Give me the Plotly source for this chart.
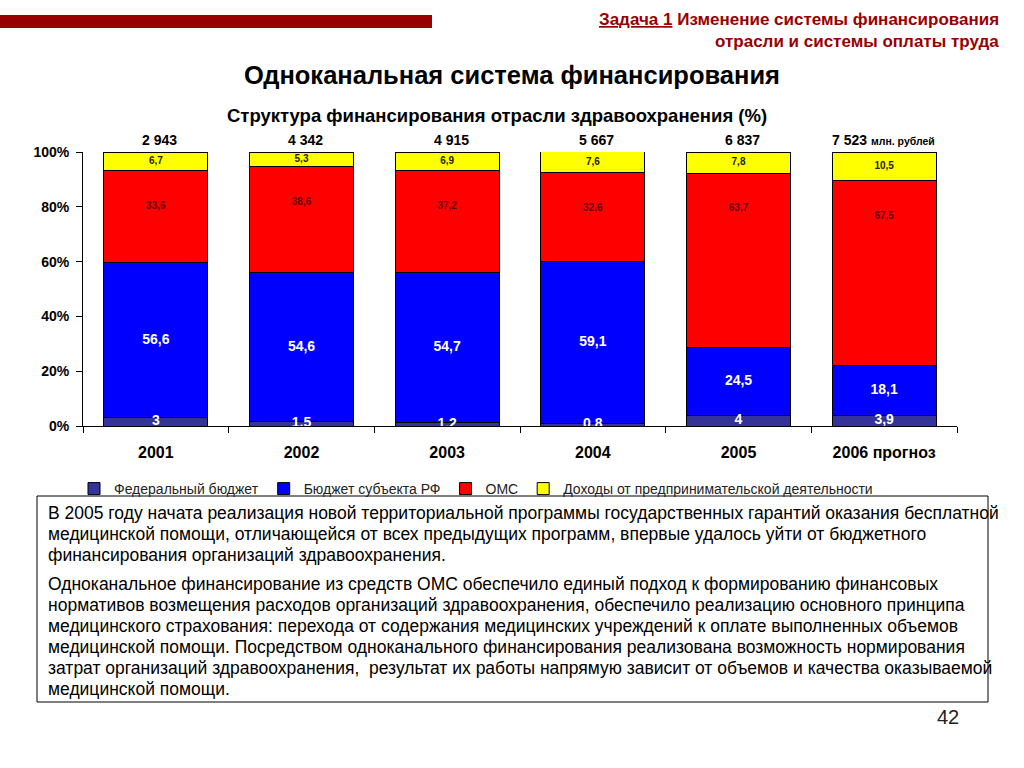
import plotly.graph_objects as go

years = ["2001", "2002", "2003", "2004", "2005", "2006 прогноз"]
totals = ["2 943", "4 342", "4 915", "5 667", "6 837", "7 523"]
federal = [3, 1.5, 1.2, 0.8, 4, 3.9]
subject = [56.6, 54.6, 54.7, 59.1, 24.5, 18.1]
oms = [33.6, 38.6, 37.2, 32.6, 63.7, 67.5]
business = [6.7, 5.3, 6.9, 7.6, 7.8, 10.5]
series_names = ["Федеральный бюджет", "Бюджет субъекта РФ", "ОМС",
                "Доходы от предпринимательской деятельности"]
colors = ["#333399", "#0000FF", "#FF0000", "#FFFF00"]
yticks = [0, 20, 40, 60, 80, 100]
ytick_labels = ["0%", "20%", "40%", "60%", "80%", "100%"]

para1 = [
    "В 2005 году начата реализация новой территориальной программы государственных гарантий оказания бесплатной",
    "медицинской помощи, отличающейся от всех предыдущих программ, впервые удалось уйти от бюджетного",
    "финансирования организаций здравоохранения.",
]
para2 = [
    "Одноканальное финансирование из средств ОМС обеспечило единый подход к формированию финансовых",
    "нормативов возмещения расходов организаций здравоохранения, обеспечило реализацию основного принципа",
    "медицинского страхования: перехода от содержания медицинских учреждений к оплате выполненных объемов",
    "медицинской помощи. Посредством одноканального финансирования реализована возможность нормирования",
    "затрат организаций здравоохранения,  результат их работы напрямую зависит от объемов и качества оказываемой",
    "медицинской помощи.",
]

FONT = "Liberation Sans, Arial, sans-serif"
W, H = 1024, 768
PL, PR, PT, PB = 83, 957, 152, 426  # plot area in pixels


def px(x):
    return (x - PL) / (PR - PL)


def py(y):
    return (PB - y) / (PB - PT)


fig = go.Figure()
for name, vals, col in zip(series_names, [federal, subject, oms, business], colors):
    fig.add_trace(go.Bar(
        x=years, y=vals, name=name,
        marker=dict(color=col, line=dict(color="black", width=1)),
        hoverinfo="skip",
    ))

# segment labels
fed_y = [v / 2 for v in federal]
sub_y = [f + s / 2 for f, s in zip(federal, subject)]
oms_top = [f + s + o for f, s, o in zip(federal, subject, oms)]
oms_y = [t - 13 for t in oms_top]
bus_y = [t + b / 2 for t, b in zip(oms_top, business)]


def fmt(v):
    return ("%g" % v).replace(".", ",")


fig.add_trace(go.Scatter(
    x=years, y=fed_y, mode="text", text=[fmt(v) for v in federal],
    textfont=dict(family=FONT, size=14, color="white", weight="bold"),
    cliponaxis=True, showlegend=False, hoverinfo="skip"))
fig.add_trace(go.Scatter(
    x=years, y=sub_y, mode="text", text=[fmt(v) for v in subject],
    textfont=dict(family=FONT, size=14, color="white", weight="bold"),
    cliponaxis=False, showlegend=False, hoverinfo="skip"))
fig.add_trace(go.Scatter(
    x=years, y=oms_y, mode="text", text=[fmt(v) for v in oms],
    textfont=dict(family=FONT, size=10, color="#660000", weight="bold"),
    cliponaxis=False, showlegend=False, hoverinfo="skip"))
fig.add_trace(go.Scatter(
    x=years, y=bus_y, mode="text", text=[fmt(v) for v in business],
    textfont=dict(family=FONT, size=10, color="#222200", weight="bold"),
    cliponaxis=False, showlegend=False, hoverinfo="skip"))

annotations = []
for i, t in enumerate(totals):
    last = i == len(totals) - 1
    annotations.append(dict(x=i, y=100, xref="x", yref="y", text=t, showarrow=False,
                            yanchor="bottom", yshift=2, xshift=-35 if last else 4,
                            font=dict(family=FONT, size=14, color="black", weight="bold")))
annotations.append(dict(x=px(869), y=py(141), xref="paper", yref="paper", text="млн. рублей",
                        showarrow=False, xanchor="left", yanchor="middle",
                        font=dict(family=FONT, size=10.5, color="black", weight="bold")))

# header
annotations.append(dict(x=px(1001), y=py(20), xref="paper", yref="paper",
                        text="<u>Задача 1</u> Изменение системы финансирования",
                        showarrow=False, xanchor="right", yanchor="middle",
                        font=dict(family=FONT, size=17, color="#990000", weight="bold")))
annotations.append(dict(x=px(1001), y=py(42), xref="paper", yref="paper",
                        text="отрасли и системы оплаты труда",
                        showarrow=False, xanchor="right", yanchor="middle",
                        font=dict(family=FONT, size=17, color="#990000", weight="bold")))
annotations.append(dict(x=px(512), y=py(75), xref="paper", yref="paper",
                        text="Одноканальная система финансирования",
                        showarrow=False, xanchor="center", yanchor="middle",
                        font=dict(family=FONT, size=25.5, color="black", weight="bold")))
annotations.append(dict(x=px(497), y=py(116), xref="paper", yref="paper",
                        text="Структура финансирования отрасли здравоохранения (%)",
                        showarrow=False, xanchor="center", yanchor="middle",
                        font=dict(family=FONT, size=18.5, color="black", weight="bold")))

# body text
line_y = [513, 534, 555]
for ln, yy in zip(para1, line_y):
    annotations.append(dict(x=px(46), y=py(yy), xref="paper", yref="paper", text=ln,
                            showarrow=False, xanchor="left", yanchor="middle",
                            font=dict(family=FONT, size=17.5, color="black")))
line_y2 = [584, 605, 626, 647, 668, 689]
for ln, yy in zip(para2, line_y2):
    annotations.append(dict(x=px(46), y=py(yy), xref="paper", yref="paper", text=ln,
                            showarrow=False, xanchor="left", yanchor="middle",
                            font=dict(family=FONT, size=17.5, color="black")))
annotations.append(dict(x=px(948), y=py(717), xref="paper", yref="paper", text="42",
                        showarrow=False, xanchor="center", yanchor="middle",
                        font=dict(family=FONT, size=20, color="#222222")))

shapes = [
    dict(type="rect", xref="paper", yref="paper", x0=px(0), x1=px(432), y0=py(28), y1=py(15),
         fillcolor="#990000", line=dict(width=0), layer="above"),
    dict(type="rect", xref="paper", yref="paper", x0=px(37), x1=px(988), y0=py(702), y1=py(496),
         fillcolor="rgba(0,0,0,0)", line=dict(color="black", width=1)),
]

fig.update_layout(
    width=W, height=H,
    margin=dict(l=PL, r=W - PR, t=PT, b=H - PB, pad=0),
    paper_bgcolor="white", plot_bgcolor="white",
    barmode="stack", bargap=0.285,
    font=dict(family=FONT, color="black"),
    showlegend=True,
    legend=dict(orientation="h", x=px(74), y=py(489), xanchor="left", yanchor="middle",
                font=dict(family=FONT, size=14, color="#222222"),
                traceorder="normal", bgcolor="rgba(0,0,0,0)", itemwidth=30),
    annotations=annotations,
    shapes=shapes,
    xaxis=dict(type="category", range=[-0.5, len(years) - 0.5],
               showline=True, linecolor="black", linewidth=1, ticks="outside",
               tickson="boundaries", ticklen=6, tickcolor="black", ticklabelstandoff=12,
               tickfont=dict(family=FONT, size=16, color="black", weight="bold"),
               showgrid=False, fixedrange=True),
    yaxis=dict(range=[0, 100], tickvals=yticks, ticktext=ytick_labels,
               showline=True, linecolor="black", linewidth=1, ticks="outside",
               ticklen=6, tickcolor="black", showgrid=False, zeroline=False,
               ticklabelstandoff=4,
               tickfont=dict(family=FONT, size=14, color="black", weight="bold")),
)

fig.write_html("out.html", config={"displayModeBar": False},
               post_script="document.body.style.margin='0';")
